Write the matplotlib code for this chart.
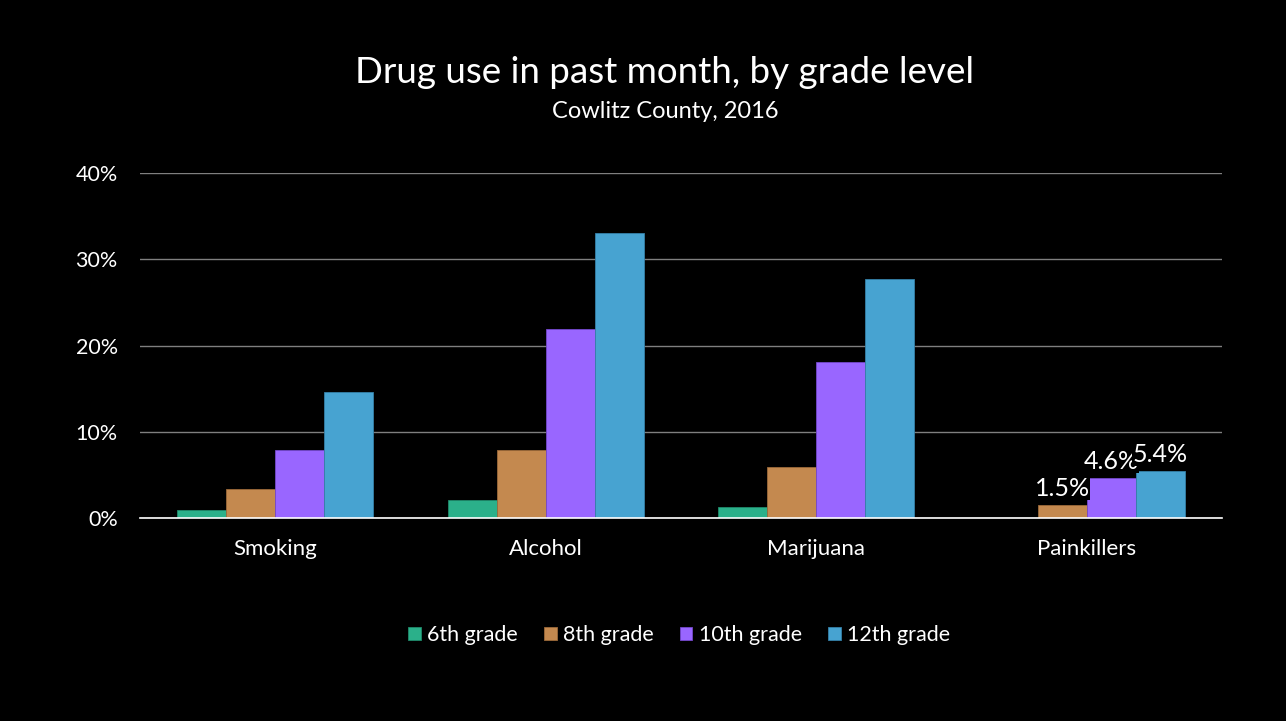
import numpy as np
import matplotlib.pyplot as plt
from matplotlib.ticker import FuncFormatter

categories = ["Smoking", "Alcohol", "Marijuana", "Painkillers"]
grades = ["6th grade", "8th grade", "10th grade", "12th grade"]
grade6 = [0.9, 2.1, 1.3, 0.0]
grade8 = [3.4, 7.9, 5.9, 1.5]
grade10 = [7.9, 21.9, 18.1, 4.6]
grade12 = [14.6, 33.0, 27.7, 5.4]
colors = ["#2BB08A", "#C4894F", "#9966FF", "#47A3D1"]
edges = ["#1f8a6b", "#9c6a3a", "#7448cc", "#3480a8"]

plt.rcParams['font.family'] = ['Lato', 'DejaVu Sans']

fig = plt.figure(figsize=(12.86, 7.21), dpi=100, facecolor="black")
ax = fig.add_axes([0.1089, 0.2816, 0.8413, 0.4784], facecolor="black")

x = np.arange(len(categories))
width = 0.181
series = [grade6, grade8, grade10, grade12]
for i, vals in enumerate(series):
    pos = x + (i - 1.5) * width
    bars = ax.bar(pos, vals, width, color=colors[i], edgecolor=edges[i],
                  linewidth=0.6, label=grades[i], zorder=3)
    # only the painkillers group carries data labels
    if i > 0:
        b = bars[3]
        ax.text(b.get_x() + b.get_width() / 2, vals[3] + 0.6, f"{vals[3]:.1f}%",
                ha="center", va="bottom", color="white", fontsize=18, zorder=4,
                bbox=dict(facecolor="black", edgecolor="none", pad=0.1))

ax.set_xlim(-0.5, 3.5)
ax.set_ylim(0, 40)
ax.set_yticks([0, 10, 20, 30, 40])
ax.yaxis.set_major_formatter(FuncFormatter(lambda v, p: f"{v:.0f}%"))
ax.set_xticks(x)
ax.set_xticklabels(categories)
ax.grid(axis="y", color="#7f7f7f", linewidth=1, zorder=0)
ax.tick_params(colors="white", labelsize=16, length=0)
ax.tick_params(axis="y", labelsize=15.5, pad=16)
ax.tick_params(axis="x", pad=15)
for s in ["top", "right", "left"]:
    ax.spines[s].set_visible(False)
ax.spines["bottom"].set_color("white")
ax.spines["bottom"].set_linewidth(1.2)
ax.spines["bottom"].set_zorder(5)

fig.text(0.517, 0.9, "Drug use in past month, by grade level", ha="center",
         va="center", color="white", fontsize=26.5)
fig.text(0.517, 0.846, "Cowlitz County, 2016", ha="center", va="center",
         color="white", fontsize=17)

leg = fig.legend(loc="center", bbox_to_anchor=(0.528, 0.119), ncol=4,
                 frameon=False, fontsize=15.5, handlelength=0.6, handleheight=0.6,
                 handletextpad=0.3, columnspacing=1.2)
for t in leg.get_texts():
    t.set_color("white")

fig.savefig("out.png", facecolor="black")
